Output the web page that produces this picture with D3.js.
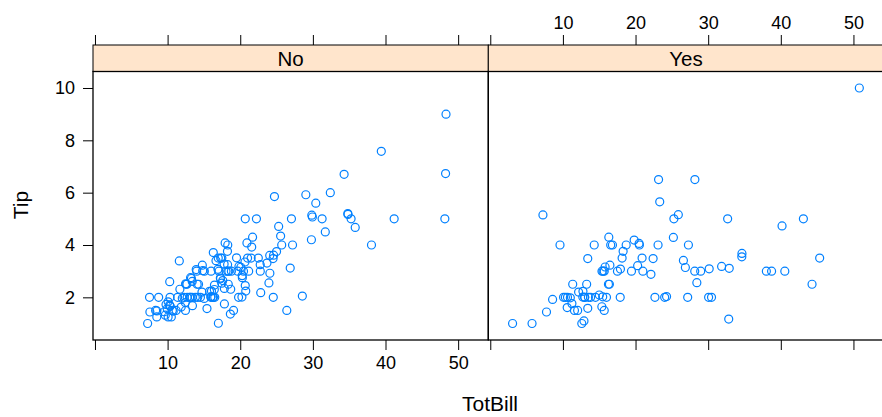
<!DOCTYPE html>
<html lang="en">
<head>
  <meta charset="UTF-8">
  <title>Tip vs TotBill by smoker</title>
  <style>
    body {
      margin: 0;
      background-color: #fff;
      font-family: "Liberation Sans", Arial, sans-serif;
    }
    svg {
      display: block;
      font-family: "Liberation Sans", Arial, sans-serif;
    }
    .pt {
      fill: none;
      stroke: #0080ff;
      stroke-width: 1.2;
    }
    .tick-label {
      font-size: 18px;
      fill: #000;
      font-family: "Liberation Sans", Arial, sans-serif;
    }
  </style>
  <script src="https://d3js.org/d3.v7.min.js"></script>
</head>
<body>
  <svg width="882" height="417"></svg>

  <script>
    // panel names (strip labels)
    const panels = ["No", "Yes"];

    // non-smokers
    const billNo = [16.99,10.34,21.01,23.68,24.59,25.29,8.77,26.88,15.04,14.78,10.27,35.26,15.42,18.43,14.83,21.58,10.33,16.29,16.97,20.65,
      17.92,20.29,15.77,39.42,19.82,17.81,13.37,12.69,21.7,19.65,9.55,18.35,15.06,20.69,17.78,24.06,16.31,16.93,18.69,31.27,
      16.04,17.46,13.94,9.68,30.4,18.29,22.23,32.4,28.55,18.04,12.54,10.29,34.81,9.94,25.56,19.49,26.41,48.27,17.59,20.08,
      16.45,20.23,12.02,17.07,14.73,10.51,27.2,22.76,17.29,16.66,10.07,15.98,34.83,13.03,18.28,24.71,21.16,22.49,22.75,12.46,
      20.92,18.24,14.0,7.25,38.07,23.95,25.71,17.31,29.93,10.65,12.43,24.08,11.69,13.42,14.26,15.95,12.48,29.8,8.52,14.52,
      11.38,22.82,19.08,20.27,11.17,12.26,18.26,8.51,10.33,14.15,13.16,17.47,34.3,41.19,27.05,16.43,8.35,18.64,11.87,9.78,
      7.51,14.07,13.13,17.26,24.55,19.77,29.85,48.17,25.0,13.39,16.49,21.5,12.66,16.21,13.81,24.52,20.76,31.71,20.69,7.56,
      48.33,15.98,20.45,13.28,11.61,10.77,10.07,35.83,29.03,17.82,18.78];
    const tipNo = [1.01,1.66,3.5,3.31,3.61,4.71,2.0,3.12,1.96,3.23,1.71,5.0,1.57,3.0,3.02,3.92,1.67,3.71,3.5,3.35,
      4.08,2.75,2.23,7.58,3.18,2.34,2.0,2.0,4.3,3.0,1.45,2.5,3.0,2.45,3.27,3.6,2.0,3.07,2.31,5.0,
      2.24,2.54,3.06,1.32,5.6,3.0,5.0,6.0,2.05,3.0,2.5,2.6,5.2,1.56,4.34,3.51,1.5,6.73,2.64,3.15,
      2.47,2.01,1.97,3.0,2.2,1.25,4.0,3.0,2.71,3.4,1.83,2.03,5.17,2.0,4.0,5.85,3.0,3.5,3.25,1.5,
      4.08,3.76,3.0,1.0,4.0,2.55,4.0,3.5,5.07,1.5,1.8,2.92,2.31,1.68,2.5,2.0,2.52,4.2,1.48,2.0,
      2.0,2.18,1.5,2.83,1.5,2.0,3.25,1.25,2.0,2.0,2.75,3.5,6.7,5.0,5.0,2.3,1.5,1.36,1.63,1.73,
      2.0,2.5,2.0,2.74,2.0,2.0,5.14,5.0,3.75,2.61,2.0,3.5,2.5,2.0,2.0,3.48,2.24,4.5,5.0,1.44,
      9.0,3.0,3.0,2.72,3.39,1.47,1.25,4.67,5.92,1.75,3.0];

    // smokers
    const billYes = [38.01,11.24,20.29,13.81,11.02,18.29,3.07,15.01,26.86,25.28,17.92,19.44,32.68,28.97,5.75,16.32,40.17,27.28,12.03,21.01,
      11.35,15.38,44.3,22.42,15.36,20.49,25.21,14.31,16.0,17.51,10.59,10.63,50.81,15.81,7.25,31.85,16.82,32.9,17.89,14.48,
      9.6,34.63,34.65,23.33,45.35,23.17,40.55,20.9,30.46,18.15,23.1,15.69,19.81,28.44,15.48,16.58,10.34,43.11,13.0,13.51,
      18.71,12.74,13.0,16.4,20.53,16.47,26.59,38.73,24.27,12.76,30.06,25.89,13.27,28.17,12.9,28.15,11.59,7.74,30.14,12.16,
      13.42,8.58,13.42,16.27,10.09,22.12,24.01,15.69,15.53,12.6,32.83,27.18,22.67];
    const tipYes = [3.0,1.76,3.21,2.0,1.98,3.76,1.0,2.09,3.14,5.0,3.08,3.0,5.0,3.0,1.0,4.3,4.73,4.0,1.5,3.0,
      2.5,3.0,2.5,3.48,1.64,4.06,4.29,4.0,2.0,3.0,1.61,2.0,10.0,3.16,5.15,3.18,4.0,3.11,2.0,2.0,
      4.0,3.55,3.68,5.65,3.5,6.5,3.0,3.5,2.0,3.5,4.0,1.5,4.19,2.56,2.02,4.0,2.0,5.0,2.0,2.0,
      4.0,2.01,2.0,2.5,4.0,3.23,3.41,3.0,2.03,2.23,2.0,5.16,2.5,6.5,1.1,3.0,1.5,1.44,3.09,2.2,
      3.48,1.92,1.58,2.5,2.0,2.88,2.0,3.0,3.0,1.0,1.17,2.0,2.0];

    const xTicks = [0, 10, 20, 30, 40, 50];
    const yTicks = [2, 4, 6, 8, 10];

    const series = [
      { name: panels[0], bill: billNo, tip: tipNo },
      { name: panels[1], bill: billYes, tip: tipYes }
    ];

    const svg = d3.select("svg");

    const panelW = 395.3;
    const left = 93;
    const stripTop = 45, stripH = 26.5;
    const plotTop = stripTop + stripH, plotBottom = 340;

    // lattice style padding: 7% each side
    const allBill = billNo.concat(billYes), allTip = tipNo.concat(tipYes);
    const xExt = d3.extent(allBill), yExt = d3.extent(allTip);
    const xPad = (xExt[1] - xExt[0]) * 0.07, yPad = (yExt[1] - yExt[0]) * 0.07;

    const y = d3.scaleLinear()
      .domain([yExt[0] - yPad, yExt[1] + yPad])
      .range([plotBottom, plotTop]);

    series.forEach((s, i) => {
      const x0 = left + i * panelW;
      const x = d3.scaleLinear()
        .domain([xExt[0] - xPad, xExt[1] + xPad])
        .range([x0, x0 + panelW]);

      const g = svg.append("g");

      // strip
      g.append("rect")
        .attr("x", x0).attr("y", stripTop)
        .attr("width", panelW).attr("height", stripH)
        .attr("fill", "#ffe5cc")
        .attr("stroke", "#000").attr("stroke-width", 1);
      g.append("text")
        .attr("x", x0 + panelW / 2).attr("y", stripTop + stripH / 2 + 7.5)
        .attr("text-anchor", "middle")
        .style("font-size", "20.5px")
        .text(s.name);

      // panel frame
      g.append("rect")
        .attr("x", x0).attr("y", plotTop)
        .attr("width", panelW).attr("height", plotBottom - plotTop)
        .attr("fill", "none")
        .attr("stroke", "#000").attr("stroke-width", 1.3);

      g.selectAll("circle")
        .data(s.bill.map((b, k) => [b, s.tip[k]]))
        .enter().append("circle")
        .attr("class", "pt")
        .attr("cx", d => x(d[0]))
        .attr("cy", d => y(d[1]))
        .attr("r", 4);

      // bottom axis: labels on first panel, top axis: labels on second
      const bottom = d3.axisBottom(x).tickValues(xTicks).tickSize(10).tickPadding(6)
        .tickFormat(d => (i === 0 && d > 0) ? d : "");
      const top = d3.axisTop(x).tickValues(xTicks).tickSize(10).tickPadding(6)
        .tickFormat(d => (i === 1 && d > 0) ? d : "");

      const gb = g.append("g").attr("transform", `translate(0,${plotBottom})`).call(bottom);
      const gt = g.append("g").attr("transform", `translate(0,${stripTop})`).call(top);
      [gb, gt].forEach(a => {
        a.attr("font-family", null).attr("font-size", null);
        a.select(".domain").remove();
        a.selectAll("line").attr("stroke", "#000");
        a.selectAll("text").attr("class", "tick-label");
      });
    });

    // left axis
    const ga = svg.append("g").attr("transform", `translate(${left},0)`)
      .call(d3.axisLeft(y).tickValues(yTicks).tickSize(10).tickPadding(8));
    ga.attr("font-family", null).attr("font-size", null);
    ga.select(".domain").remove();
    ga.selectAll("line").attr("stroke", "#000");
    ga.selectAll("text").attr("class", "tick-label");

    // axis titles
    svg.append("text")
      .attr("x", 490).attr("y", 411)
      .attr("text-anchor", "middle")
      .style("font-size", "21px")
      .text("TotBill");

    svg.append("text")
      .attr("transform", "translate(27.5,205) rotate(-90)")
      .attr("text-anchor", "middle")
      .style("font-size", "21px")
      .text("Tip");
  </script>
</body>
</html>
